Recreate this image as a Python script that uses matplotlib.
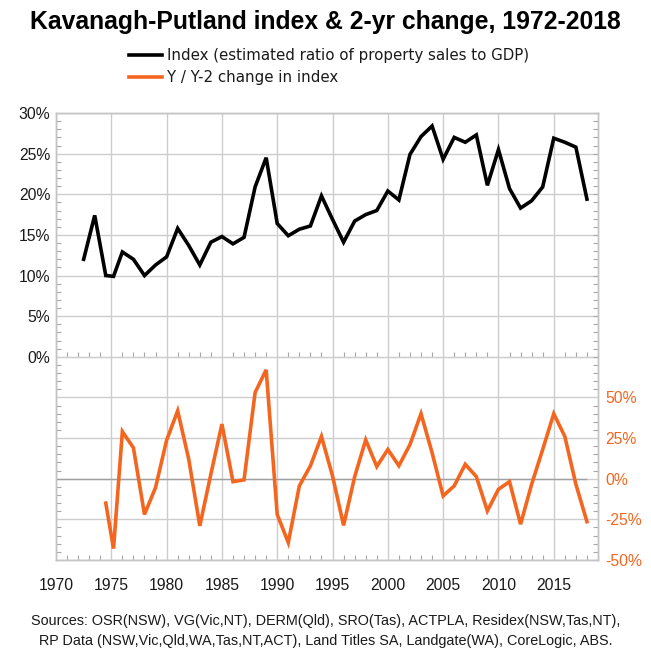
import matplotlib
matplotlib.use('Agg')
import matplotlib.pyplot as plt
from matplotlib.ticker import MultipleLocator, FixedLocator, FuncFormatter

# Kavanagh-Putland index (% of GDP), early points sit between calendar years
index_years = [1972.5, 1973.5, 1974.5, 1975.2] + list(range(1976, 2019))
index_pct = [12.0, 17.4, 10.0, 9.9,
             12.9, 12.0, 10.0, 11.3, 12.3, 15.8, 13.7, 11.3, 14.1, 14.8,
             13.9, 14.7, 20.9, 24.5, 16.4, 14.9, 15.7, 16.1, 19.8, 16.9,
             14.1, 16.7, 17.5, 18.0, 20.4, 19.3, 24.9, 27.1, 28.4, 24.3,
             27.0, 26.4, 27.3, 21.1, 25.5, 20.7, 18.3, 19.2, 20.9, 26.9,
             26.4, 25.8, 19.4]

# Y / Y-2 change in index (%)
change_years = [1974.5, 1975.2] + list(range(1976, 2019))
change_pct = [-15.0, -43.0,
              29.0, 19.0, -22.0, -5.4, 23.7, 41.8, 12.0, -29.0, 2.8, 33.6,
              -1.8, -0.7, 53.0, 67.0, -22.0, -39.3, -4.4, 7.9, 26.0, 1.7,
              -28.7, 1.2, 23.9, 7.5, 18.0, 8.0, 21.0, 40.0, 16.0, -10.6,
              -4.4, 8.9, 1.3, -19.8, -6.5, -1.8, -28.0, -3.4, 18.0, 40.0,
              26.0, -3.4, -26.4]

left_labels = [0, 5, 10, 15, 20, 25, 30]
right_labels = [-50, -25, 0, 25, 50]
year_labels = list(range(1970, 2016, 5))

legend_labels = ['Index (estimated ratio of property sales to GDP)',
                 'Y / Y-2 change in index']
title = 'Kavanagh-Putland index & 2-yr change, 1972-2018'
sources = ('Sources: OSR(NSW), VG(Vic,NT), DERM(Qld), SRO(Tas), ACTPLA, Residex(NSW,Tas,NT),\n'
           'RP Data (NSW,Vic,Qld,WA,Tas,NT,ACT), Land Titles SA, Landgate(WA), CoreLogic, ABS.')

ORANGE = '#f4661f'
GRID = '#cdcdcd'
SPINE = '#c4c4c4'
TICK = '#a8a8a8'
TEXT = '#1a1a1a'

plt.rcParams['font.family'] = ['Liberation Sans', 'DejaVu Sans']

W, H = 651, 660
fig = plt.figure(figsize=(W / 100, H / 100), dpi=100)
ax = fig.add_axes([56 / W, 1 - 560 / H, (598 - 56) / W, (560 - 113) / H])
ax2 = ax.twinx()

ax.set_xlim(1970, 2019)
ax.set_ylim(-25, 30)
ax2.set_ylim(-50, 225)

# grid on the main axes, both panels share it
ax.xaxis.set_major_locator(FixedLocator(year_labels))
ax.xaxis.set_minor_locator(MultipleLocator(1))
ax.yaxis.set_major_locator(MultipleLocator(5))
ax.yaxis.set_minor_locator(MultipleLocator(1))
ax.yaxis.set_major_formatter(FuncFormatter(
    lambda v, p: f'{v:.0f}%' if v >= 0 and round(v) in left_labels else ''))
ax.grid(True, which='major', color=GRID, linewidth=1.0, zorder=0)
ax.set_axisbelow(True)

ax.tick_params(axis='both', which='major', length=0, labelsize=11.3,
               labelcolor=TEXT)
ax.tick_params(axis='y', which='major', pad=4)
ax.tick_params(axis='x', which='major', pad=13)
ax.tick_params(axis='both', which='minor', direction='in', length=3.6,
               width=0.8, color=TICK)

ax2.yaxis.set_major_locator(FixedLocator(right_labels))
ax2.yaxis.set_minor_locator(MultipleLocator(5))
ax2.yaxis.set_major_formatter(FuncFormatter(lambda v, p: f'{v:.0f}%'.replace('\u2212', '-')))
ax2.tick_params(axis='y', which='major', length=0, pad=5, labelsize=11.3,
                labelcolor=ORANGE)
ax2.tick_params(axis='y', which='minor', direction='in', length=3.6,
                width=0.8, color=TICK)

for a in (ax, ax2):
    for s in a.spines.values():
        s.set_color(SPINE)
        s.set_linewidth(1.0)

# baseline of the upper panel with its own year ticks
upper_zero = ax.secondary_xaxis(25 / 55)
upper_zero.xaxis.set_major_locator(FixedLocator(year_labels))
upper_zero.xaxis.set_minor_locator(MultipleLocator(1))
upper_zero.tick_params(which='major', length=0, labelbottom=False, labeltop=False)
upper_zero.tick_params(which='minor', direction='in', length=3.6, width=0.8,
                       color=TICK)
for s in upper_zero.spines.values():
    s.set_color(GRID)

# zero line of the lower panel
ax2.hlines(0, 1970, 2018, color='#a0a0a0', linewidth=1.0, zorder=1)

l1, = ax.plot(index_years, index_pct, color='black', linewidth=2.6,
              solid_joinstyle='miter', zorder=3)
l2, = ax2.plot(change_years, change_pct, color=ORANGE, linewidth=2.6,
               solid_joinstyle='miter', zorder=3)

fig.text(0.5, 1 - 22 / H, title, ha='center', va='center', fontsize=17.8,
         fontweight='bold', color='black')

fig.legend([l1, l2], legend_labels, loc='upper left',
           bbox_to_anchor=(129 / W, 1 - 48 / H), frameon=False,
           prop={'family': 'DejaVu Sans', 'size': 10.8}, labelcolor=TEXT,
           handlelength=2.2, handletextpad=0.35, labelspacing=0.45,
           borderpad=0, borderaxespad=0)

fig.text(0.5, 1 - 631 / H, sources, ha='center', va='center', fontsize=10.35,
         linespacing=1.5, color=TEXT)

fig.savefig('out.png', dpi=100)
